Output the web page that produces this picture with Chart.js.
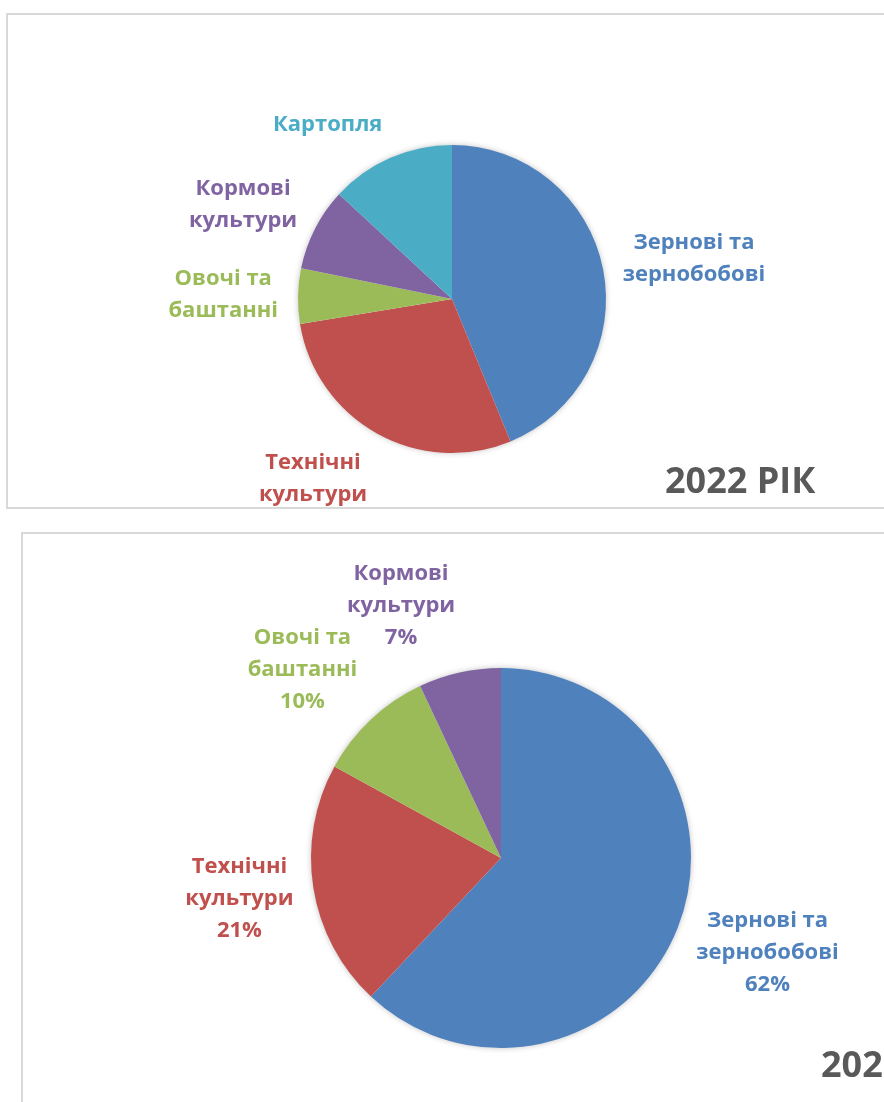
<!DOCTYPE html>
<html>
<head>
<meta charset="utf-8">
<script src="https://cdn.jsdelivr.net/npm/chart.js@4/dist/chart.umd.min.js"></script>
<style>
  html, body { margin: 0; padding: 0; background: #fff; overflow: hidden; width: 884px; height: 1102px; }
  .box { position: absolute; border: 2px solid #d9d9d9; box-sizing: border-box; }
  canvas { position: absolute; }
</style>
</head>
<body>
<div class="box" style="left:6px; top:13px; width:900px; height:496px;"></div>
<div class="box" style="left:21px; top:532px; width:900px; height:600px;"></div>
<canvas id="pie2022" style="left:8px; top:15px;" width="876" height="491"></canvas>
<canvas id="pieNext" style="left:23px; top:534px;" width="861" height="568"></canvas>
<script>
// 2022 - structure of sown area
const labels2022 = [['Зернові та', 'зернобобові'], ['Технічні', 'культури'], ['Овочі та', 'баштанні'], ['Кормові', 'культури'], ['Картопля']];
const values2022 = [43.8, 28.6, 5.8, 8.7, 13.1];

// second chart (year cut off on the right)
const labelsNext = [['Зернові та', 'зернобобові'], ['Технічні', 'культури'], ['Овочі та', 'баштанні'], ['Кормові', 'культури']];
const valuesNext = [62, 21, 10, 7];

const sliceColors = ['#4F81BD', '#C0504D', '#9BBB59', '#8064A2', '#4BACC6'];
const labelFont = 'bold 22px "Open Sans", sans-serif';
const lineH = 32;

// soft shadow under the pie + outside labels placed like Excel "outside end"
const pieLabels = {
    id: 'pieLabels',
    beforeDatasetsDraw(chart) {
        const arc = chart.getDatasetMeta(0).data[0];
        if (!arc) return;
        const { x, y, outerRadius } = arc.getProps(['x', 'y', 'outerRadius'], true);
        const ctx = chart.ctx;
        ctx.save();
        ctx.shadowColor = 'rgba(0,0,0,0.28)';
        ctx.shadowBlur = 6;
        ctx.beginPath();
        ctx.arc(x, y, outerRadius - 0.5, 0, Math.PI * 2);
        ctx.fillStyle = '#fff';
        ctx.fill();
        ctx.restore();
    },
    afterDatasetsDraw(chart, args, opts) {
        const ctx = chart.ctx;
        const ds = chart.data.datasets[0];
        const total = ds.data.reduce((a, b) => a + b, 0);
        ctx.save();
        ctx.font = labelFont;
        ctx.textAlign = 'center';
        ctx.textBaseline = 'middle';
        chart.getDatasetMeta(0).data.forEach((arc, i) => {
            const p = arc.getProps(['x', 'y', 'startAngle', 'endAngle', 'outerRadius'], true);
            const mid = (p.startAngle + p.endAngle) / 2;
            const dx = Math.cos(mid), dy = Math.sin(mid);
            const lines = chart.data.labels[i].slice();
            if (opts.showPercent) lines.push(Math.round(ds.data[i] / total * 100) + '%');
            const hw = Math.max(...lines.map(l => ctx.measureText(l).width)) / 2;
            const hh = lines.length * lineH / 2;
            const r = p.outerRadius + 20;
            const cx = p.x + dx * r + Math.sign(dx) * hw;
            const cy = p.y + dy * r + dy * hh;
            ctx.fillStyle = ds.backgroundColor[i];
            lines.forEach((l, k) => {
                ctx.fillText(l, cx, cy - hh + lineH / 2 + k * lineH);
            });
        });
        ctx.restore();
        // year caption
        ctx.save();
        ctx.font = 'bold 36px "Open Sans", sans-serif';
        ctx.fillStyle = '#595959';
        ctx.textAlign = 'left';
        ctx.textBaseline = 'alphabetic';
        ctx.fillText(opts.caption, opts.captionX, opts.captionY);
        ctx.restore();
    }
};

const makePie = (id, labels, values, padding, extra) => {
    const ctx = document.getElementById(id).getContext('2d');
    return new Chart(ctx, {
        type: 'pie',
        data: {
            labels: labels,
            datasets: [{
                data: values,
                backgroundColor: sliceColors.slice(0, values.length),
                borderWidth: 0
            }]
        },
        options: {
            responsive: false,
            animation: false,
            layout: { padding: padding },
            plugins: {
                legend: { display: false },
                tooltip: { enabled: false },
                pieLabels: extra
            }
        },
        plugins: [pieLabels]
    });
};

makePie('pie2022', labels2022, values2022,
    { left: 290, top: 130, right: 278, bottom: 53 },
    { showPercent: false, caption: '2022 РІК', captionX: 657, captionY: 478 });

makePie('pieNext', labelsNext, valuesNext,
    { left: 288, top: 134, right: 193, bottom: 54 },
    { showPercent: true, caption: '2023 РІК', captionX: 798, captionY: 543 });
</script>
</body>
</html>
